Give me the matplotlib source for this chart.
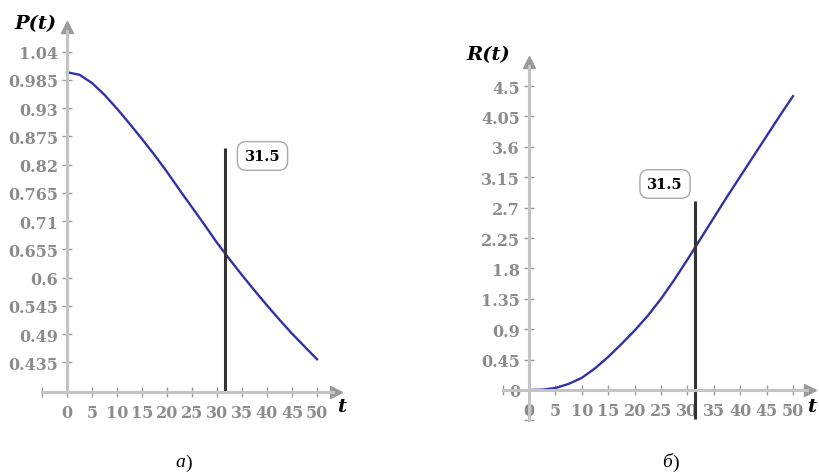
import numpy as np
import matplotlib
matplotlib.use('Agg')
import matplotlib.pyplot as plt

# values
t = [0, 2.5, 5, 7.5, 10, 12.5, 15, 17.5, 20, 22.5, 25,
     27.5, 30, 32.5, 35, 37.5, 40, 42.5, 45, 47.5, 50]
P = [1.000, 0.995, 0.979, 0.956, 0.929, 0.900, 0.870, 0.839, 0.806, 0.771, 0.737,
     0.703, 0.668, 0.636, 0.605, 0.575, 0.546, 0.518, 0.491, 0.466, 0.441]
R = [0.00, 0.005, 0.03, 0.09, 0.18, 0.32, 0.49, 0.68, 0.88, 1.10, 1.35,
     1.63, 1.93, 2.24, 2.55, 2.86, 3.16, 3.46, 3.76, 4.06, 4.35]
t_mark = 31.5
P_ticks = [1.04, 0.985, 0.93, 0.875, 0.82, 0.765, 0.71, 0.655, 0.6, 0.545, 0.49, 0.435]
R_ticks = [0, 0.45, 0.9, 1.35, 1.8, 2.25, 2.7, 3.15, 3.6, 4.05, 4.5]
x_ticks = list(range(0, 55, 5))

W, H = 819, 477
BLUE = '#3232a8'
AXC = '#c4c4c4'
TKC = '#9a9a9a'
LBC = '#8c8c8c'
SERIF = 'DejaVu Serif'

fig = plt.figure(figsize=(W / 100, H / 100), dpi=100)


def px(x, y):
    return x / W, 1 - y / H


def setup(ax, xlim, ylim, yticks, ylabels, x_axis_at, ybounds, xarrow, yarrow):
    ax.set_xlim(*xlim)
    ax.set_ylim(*ylim)
    ax.patch.set_alpha(0)
    for s in ['top', 'right']:
        ax.spines[s].set_visible(False)
    ax.spines['left'].set_position(('data', 0))
    ax.spines['bottom'].set_position(('data', x_axis_at))
    ax.spines['left'].set_bounds(*ybounds)
    ax.spines['bottom'].set_bounds(-5, xarrow)
    for s in ['left', 'bottom']:
        ax.spines[s].set_color(AXC)
        ax.spines[s].set_linewidth(2.2)
    ax.set_xticks([-5] + x_ticks, [''] + [str(v) for v in x_ticks])
    ax.set_yticks(yticks, ylabels)
    ax.tick_params(direction='inout', length=7, width=1, color=TKC,
                   labelcolor=LBC, labelsize=11.5)
    ax.tick_params(axis='y', pad=3)
    ax.tick_params(axis='x', pad=5)
    for lab in ax.get_xticklabels() + ax.get_yticklabels():
        lab.set_family(SERIF)
        lab.set_fontweight('bold')
    ax.plot([xarrow + 0.6], [x_axis_at], '>', color=TKC, ms=8, clip_on=False)
    ax.plot([0], [yarrow], '^', color=TKC, ms=8, clip_on=False)


box = dict(boxstyle='round,pad=0.5,rounding_size=0.6', fc='white', ec='#a8a8a8', lw=1)

# left panel, P(t)
axL = fig.add_axes([30 / W, 77 / H, 320 / W, 385 / H])
P_axis = 0.377
setup(axL, (-7.4, 56.6), (0.3637, 1.1134), P_ticks,
      ['1.04', '0.985', '0.93', '0.875', '0.82', '0.765', '0.71', '0.655',
       '0.6', '0.545', '0.49', '0.435'],
      P_axis, (P_axis, 1.08), 53.2, 1.088)
axL.plot(t, P, color=BLUE, lw=1.7)
axL.vlines(t_mark, P_axis, 0.853, color='#333333', lw=2.2)
axL.text(39.1, 0.837, '31.5', ha='center', va='center', fontsize=10.5,
         fontweight='bold', family=SERIF, bbox=box)

# right panel, R(t)
axR = fig.add_axes([490 / W, 47 / H, 329 / W, 390 / H])
setup(axR, (-7.386, 54.92), (-0.5774, 5.196), [-0.45] + R_ticks,
      ['', '0', '0.45', '0.9', '1.35', '1.8', '2.25', '2.7', '3.15', '3.6',
       '4.05', '4.5'],
      0, (-0.45, 4.8), 52.6, 4.85)
axR.plot(t, R, color=BLUE, lw=1.7)
axR.vlines(t_mark, -0.43, 2.8, color='#333333', lw=2.2)
axR.text(25.76, 3.05, '31.5', ha='center', va='center', fontsize=10.5,
         fontweight='bold', family=SERIF, bbox=box)

# axis names
lab = dict(fontsize=14, fontweight='bold', style='italic', family=SERIF,
           ha='center', va='center', color='black')
fig.text(*px(36, 24), 'P(t)', **lab)
fig.text(*px(488, 55), 'R(t)', **lab)
fig.text(*px(342, 407), 't', **lab)
fig.text(*px(812, 407), 't', **lab)

# panel captions
cap = dict(fontsize=14, family='Liberation Serif', va='center', color='black')
fig.text(*px(185, 463), 'а', style='italic', ha='right', **cap)
fig.text(*px(185, 463), ')', ha='left', **cap)
fig.text(*px(672, 463), 'б', style='italic', ha='right', **cap)
fig.text(*px(672, 463), ')', ha='left', **cap)

fig.savefig('out.png', dpi=100)
